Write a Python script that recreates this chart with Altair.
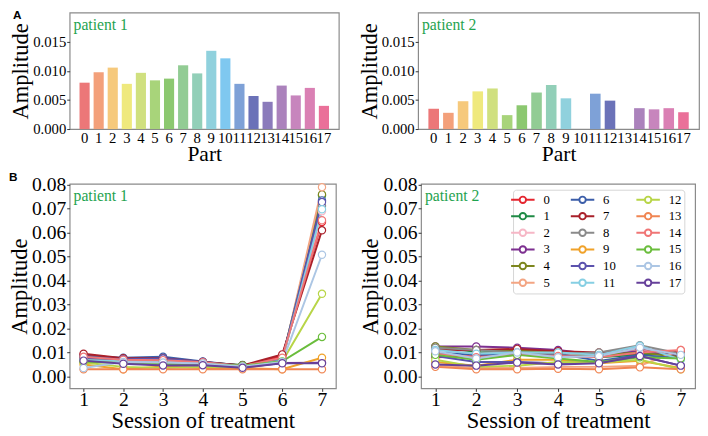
import altair as alt
import pandas as pd

FONT = "Liberation Serif"
GREEN = "#1fa34f"

# ---------------- data ----------------
parts = [str(i) for i in range(18)]
p1_bar = [0.0080, 0.0098, 0.0106, 0.0078, 0.0097, 0.0084, 0.0087, 0.0110, 0.0096,
          0.0135, 0.0122, 0.0078, 0.0057, 0.0047, 0.0075, 0.0058, 0.0071, 0.0040]
p2_bar = [0.0035, 0.0028, 0.0048, 0.0065, 0.0070, 0.0024, 0.0041, 0.0063, 0.0076,
          0.0053, 0.0000, 0.0061, 0.0049, 0.0000, 0.0036, 0.0034, 0.0036, 0.0029]
bar_colors = ["#ec7778", "#f3a07a", "#f6c97c", "#efe97d", "#d0e07f", "#a8d47a",
              "#8cc870", "#92cc94", "#92cfb8", "#90d1dd", "#7fc8f0", "#7ea1d7",
              "#6b72b8", "#8b7bbb", "#ab82bc", "#c785bd", "#da80b4", "#ea7099"]

sessions = [1, 2, 3, 4, 5, 6, 7]
p1_lines = [
    [0.0090, 0.0075, 0.0078, 0.0060, 0.0045, 0.0085, 0.0645],
    [0.0080, 0.0065, 0.0070, 0.0058, 0.0048, 0.0070, 0.0755],
    [0.0070, 0.0068, 0.0065, 0.0057, 0.0045, 0.0068, 0.0690],
    [0.0065, 0.0057, 0.0048, 0.0048, 0.0037, 0.0056, 0.0057],
    [0.0075, 0.0060, 0.0062, 0.0058, 0.0046, 0.0066, 0.0760],
    [0.0060, 0.0062, 0.0060, 0.0055, 0.0042, 0.0065, 0.0790],
    [0.0085, 0.0078, 0.0082, 0.0062, 0.0045, 0.0075, 0.0735],
    [0.0095, 0.0076, 0.0076, 0.0060, 0.0046, 0.0092, 0.0610],
    [0.0072, 0.0066, 0.0064, 0.0057, 0.0044, 0.0070, 0.0712],
    [0.0050, 0.0030, 0.0042, 0.0035, 0.0035, 0.0030, 0.0078],
    [0.0078, 0.0072, 0.0075, 0.0060, 0.0040, 0.0068, 0.0728],
    [0.0068, 0.0064, 0.0066, 0.0056, 0.0044, 0.0066, 0.0698],
    [0.0058, 0.0040, 0.0035, 0.0040, 0.0038, 0.0062, 0.0345],
    [0.0030, 0.0030, 0.0030, 0.0030, 0.0030, 0.0030, 0.0030],
    [0.0082, 0.0070, 0.0068, 0.0059, 0.0043, 0.0078, 0.0652],
    [0.0062, 0.0055, 0.0052, 0.0052, 0.0045, 0.0063, 0.0165],
    [0.0035, 0.0060, 0.0058, 0.0054, 0.0042, 0.0060, 0.0508],
    [0.0066, 0.0053, 0.0046, 0.0047, 0.0036, 0.0055, 0.0055],
]
p2_lines = [
    [0.0080, 0.0085, 0.0095, 0.0090, 0.0085, 0.0095, 0.0100],
    [0.0120, 0.0100, 0.0105, 0.0100, 0.0080, 0.0090, 0.0095],
    [0.0115, 0.0095, 0.0100, 0.0095, 0.0090, 0.0110, 0.0105],
    [0.0125, 0.0125, 0.0120, 0.0110, 0.0090, 0.0105, 0.0085],
    [0.0125, 0.0110, 0.0110, 0.0100, 0.0090, 0.0100, 0.0080],
    [0.0045, 0.0035, 0.0035, 0.0040, 0.0040, 0.0045, 0.0110],
    [0.0100, 0.0090, 0.0090, 0.0095, 0.0065, 0.0090, 0.0075],
    [0.0110, 0.0110, 0.0115, 0.0105, 0.0100, 0.0115, 0.0100],
    [0.0120, 0.0110, 0.0100, 0.0095, 0.0100, 0.0130, 0.0095],
    [0.0060, 0.0045, 0.0070, 0.0070, 0.0055, 0.0065, 0.0035],
    [0.0085, 0.0060, 0.0060, 0.0055, 0.0060, 0.0085, 0.0045],
    [0.0110, 0.0095, 0.0100, 0.0100, 0.0090, 0.0128, 0.0070],
    [0.0070, 0.0040, 0.0045, 0.0060, 0.0058, 0.0070, 0.0030],
    [0.0040, 0.0030, 0.0030, 0.0032, 0.0030, 0.0038, 0.0030],
    [0.0095, 0.0080, 0.0090, 0.0085, 0.0080, 0.0100, 0.0110],
    [0.0090, 0.0070, 0.0090, 0.0075, 0.0060, 0.0080, 0.0075],
    [0.0105, 0.0075, 0.0100, 0.0080, 0.0085, 0.0120, 0.0090],
    [0.0050, 0.0045, 0.0058, 0.0050, 0.0055, 0.0085, 0.0045],
]
line_colors = ["#e52630", "#1f8a45", "#f6b7c6", "#7d2f90", "#7d861e", "#f3a583",
               "#3c5ea9", "#a9202a", "#8a8a8a", "#f0a22a", "#5b52ad", "#86cfe3",
               "#b8d547", "#f08552", "#f07575", "#6abd3c", "#acc6e4", "#66409a"]
patient_labels = ["patient 1", "patient 2"]
panel_letters = ["A", "B"]
series_names = [str(i) for i in range(18)]

LEG_PATH = ("M-2,0L-0.55,0M0.55,0L2,0M-0.55,0A0.55,0.55,0,1,0,0.55,0"
            "A0.55,0.55,0,1,0,-0.55,0Z")


def label_layer(text, x, y, color, size, weight="normal", font=FONT):
    df = pd.DataFrame({"t": [text]})
    return alt.Chart(df).mark_text(
        align="left", baseline="top", font=font, fontSize=size,
        fontWeight=weight, color=color
    ).encode(x=alt.value(x), y=alt.value(y), text="t:N")


def bar_panel(values, label, letter, w):
    df = pd.DataFrame({"part": parts, "amp": values})
    bars = alt.Chart(df).mark_bar().encode(
        x=alt.X("part:N", sort=parts, title="Part",
                scale=alt.Scale(paddingInner=0.28, paddingOuter=0.7),
                axis=alt.Axis(labelAngle=0, labelFontSize=15, titleFontSize=22,
                              labelOverlap=False, labelPadding=2, titlePadding=-2,
                              ticks=False)),
        y=alt.Y("amp:Q", title="Amplitude",
                scale=alt.Scale(domain=[0, 0.0201], nice=False, zero=True),
                axis=alt.Axis(values=[0, 0.005, 0.01, 0.015], format=".3f",
                              labelFontSize=15, titleFontSize=23, titlePadding=0,
                              labelPadding=1)),
        color=alt.Color("part:N", scale=alt.Scale(domain=parts, range=bar_colors),
                        legend=None),
    )
    layers = [bars, label_layer(label, 4, 5, GREEN, 16)]
    if letter:
        layers.append(label_layer(letter, -58, -2, "black", 12, "bold", "Liberation Sans"))
    return alt.layer(*layers).properties(width=w, height=119)


def line_panel(lines, label, letter, w, show_legend):
    rows = []
    for k in range(18):
        for s, v in zip(sessions, lines[k]):
            rows.append({"series": series_names[k], "session": s, "amp": v})
    df = pd.DataFrame(rows)
    if show_legend:
        leg = alt.Legend(title=None, orient="none", legendX=94, legendY=6,
                         columns=3, symbolType=LEG_PATH, symbolSize=144,
                         symbolStrokeWidth=2, symbolFillColor="white",
                         labelFont=FONT, labelFontSize=13, labelColor="black",
                         columnPadding=17, rowPadding=1, fillColor="white",
                         strokeColor="#d5d5d5", padding=3, cornerRadius=3,
                         labelOffset=14)
    else:
        leg = None
    stroke = alt.Stroke("series:N", sort=series_names,
                        scale=alt.Scale(domain=series_names, range=line_colors),
                        legend=leg)
    x = alt.X("session:Q", title="Session of treatment",
              scale=alt.Scale(domain=[0.65, 7.35], nice=False, zero=False),
              axis=alt.Axis(values=sessions, format="d", labelFontSize=20,
                            titleFontSize=23, labelPadding=-2, titlePadding=1))
    y = alt.Y("amp:Q", title="Amplitude",
              scale=alt.Scale(domain=[-0.005, 0.0804], nice=False, zero=False),
              axis=alt.Axis(values=[0, 0.01, 0.02, 0.03, 0.04, 0.05, 0.06, 0.07, 0.08],
                            format=".2f", labelFontSize=20, titleFontSize=23,
                            titlePadding=0, labelPadding=1))
    base = alt.Chart(df)
    line = base.mark_line(strokeWidth=2).encode(x=x, y=y, stroke=stroke, order="session:Q")
    pts = base.mark_point(filled=True, fill="white", size=55, strokeWidth=1.2,
                          opacity=1).encode(x=x, y=y, stroke=stroke)
    layers = [line, pts, label_layer(label, 4, 5, GREEN, 16)]
    if letter:
        layers.append(label_layer(letter, -62, -12, "black", 12, "bold", "Liberation Sans"))
    return alt.layer(*layers).properties(width=w, height=209)


top = alt.hconcat(
    bar_panel(p1_bar, patient_labels[0], panel_letters[0], 275),
    bar_panel(p2_bar, patient_labels[1], None, 287),
    spacing=18,
).resolve_scale(color="independent")

bottom = alt.hconcat(
    line_panel(p1_lines, patient_labels[0], panel_letters[1], 272, False),
    line_panel(p2_lines, patient_labels[1], None, 280, True),
    spacing=23,
).resolve_scale(stroke="independent").resolve_legend(stroke="independent")

chart = alt.vconcat(top, bottom, spacing=5).resolve_scale(
    color="independent", stroke="independent"
).properties(
    padding={"left": 0, "top": -4, "right": 0, "bottom": 0}
).configure_axis(
    labelFont=FONT, titleFont=FONT, labelColor="black", titleColor="black",
    titleFontWeight="normal", domain=False, grid=False, tickColor="#333",
    tickSize=3
).configure_view(
    stroke="#8a8a8a", strokeWidth=1.2
)

chart.save("out.html", embed_options={"renderer": "svg", "actions": False})
